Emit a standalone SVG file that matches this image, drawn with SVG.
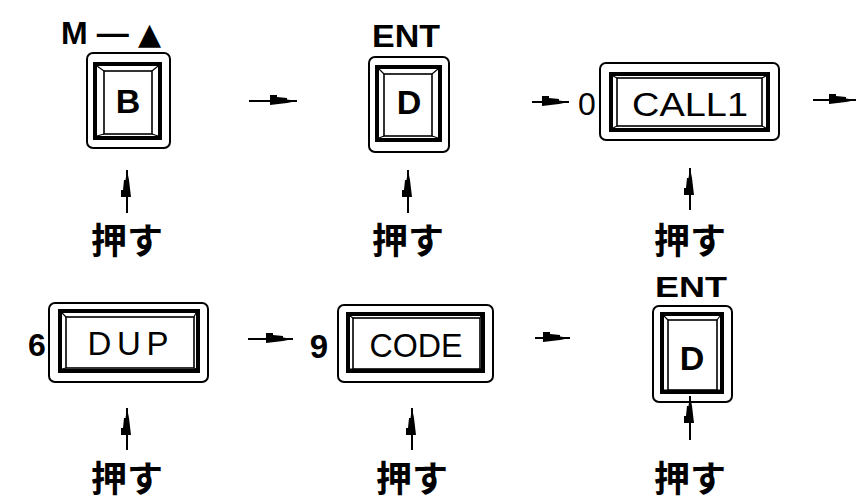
<svg xmlns="http://www.w3.org/2000/svg" width="856" height="502" viewBox="0 0 856 502">
<style>
.o{fill:none;stroke:#000;stroke-width:2}
.m{fill:none;stroke:#000;stroke-width:4}
.i{fill:none;stroke:#000;stroke-width:1.6}
.b{fill:none;stroke:#000;stroke-width:1.2}
.t{font-family:"Liberation Sans",Arial,sans-serif;font-weight:bold;fill:#000;text-anchor:middle}
.n{font-family:"Liberation Sans",Arial,sans-serif;fill:#000;text-anchor:middle}
.j{font-family:"Liberation Sans","Noto Sans CJK JP",sans-serif;font-weight:bold;font-size:36px;fill:#000;text-anchor:middle}
.c{stroke:#000;stroke-width:2;fill:none;marker-end:url(#ah)}
</style>
<defs>
<marker id="ah" markerUnits="userSpaceOnUse" viewBox="-30 -8 32 16" refX="0" refY="0" markerWidth="32" markerHeight="16" orient="auto" overflow="visible">
<path d="M0,0 L-10,-1.5 L-10,-3 L-20,-4 L-20,-6 L-27,-6 L-27,4 L-10,2 Z" fill="#000"/>
</marker>
</defs>

<g id="label-m">
<text class="t" x="111" y="44" font-size="32" textLength="100" lengthAdjust="spacing">M—<tspan font-family="DejaVu Sans,sans-serif" font-size="30">▲</tspan></text>
</g>
<g id="key-b">
<rect class="o" x="87" y="53" width="83" height="95" rx="6"/>
<rect class="m" x="95" y="64" width="65" height="74"/>
<rect class="i" x="104" y="71" width="48" height="63"/>
<path class="b" d="M97,66 L104,71 M158,66 L152,71 M97,136 L104,134 M158,136 L152,134"/>
<text class="t" x="128" y="113" font-size="34">B</text>
</g>

<g id="label-ent1">
<text class="t" x="406" y="47" font-size="32" textLength="68" lengthAdjust="spacingAndGlyphs">ENT</text>
</g>
<g id="key-d1">
<rect class="o" x="369" y="57" width="80" height="95" rx="6"/>
<rect class="m" x="377" y="67" width="63" height="73"/>
<rect class="i" x="384" y="74" width="48" height="62"/>
<path class="b" d="M379,69 L384,74 M438,69 L432,74 M379,138 L384,136 M438,138 L432,136"/>
<text class="t" x="409" y="114" font-size="34">D</text>
</g>

<g id="label-0">
<text class="n" x="587" y="115" font-size="32">0</text>
</g>
<g id="key-call1">
<rect class="o" x="600" y="63" width="179" height="77" rx="6"/>
<rect class="m" x="611" y="74" width="157" height="56"/>
<rect class="i" x="617" y="78" width="145" height="48"/>
<path class="b" d="M613,76 L617,78 M766,76 L762,78 M613,128 L617,126 M766,128 L762,126"/>
<text class="n" x="690" y="116" font-size="33" textLength="116" lengthAdjust="spacingAndGlyphs">CALL1</text>
</g>

<g id="label-6">
<text class="t" x="37" y="356" font-size="32">6</text>
</g>
<g id="key-dup">
<rect class="o" x="49" y="303" width="159" height="79" rx="6"/>
<rect class="m" x="60" y="311" width="138" height="60"/>
<rect class="i" x="66" y="317" width="128" height="51"/>
<path class="b" d="M62,313 L66,317 M196,313 L194,317 M62,369 L66,368 M196,369 L194,368"/>
<text class="n" x="128" y="355" font-size="33" textLength="81" lengthAdjust="spacing">DUP</text>
</g>

<g id="label-9">
<text class="t" x="319" y="358" font-size="33">9</text>
</g>
<g id="key-code">
<rect class="o" x="338" y="305" width="155" height="77" rx="6"/>
<rect class="m" x="348" y="314" width="135" height="57"/>
<rect class="i" x="353" y="318" width="127" height="51"/>
<path class="b" d="M350,316 L353,318 M481,316 L480,318 M350,369 L353,369 M481,369 L480,369"/>
<text class="n" x="416" y="357" font-size="33" textLength="93" lengthAdjust="spacingAndGlyphs">CODE</text>
</g>

<g id="label-ent2">
<text class="t" x="691" y="297" font-size="30" textLength="72" lengthAdjust="spacingAndGlyphs">ENT</text>
</g>
<g id="key-d2">
<rect class="o" x="653" y="306" width="79" height="96" rx="6"/>
<rect class="m" x="662" y="314" width="60" height="78"/>
<rect class="i" x="668" y="320" width="49" height="70"/>
<path class="b" d="M664,316 L668,320 M720,316 L717,320 M664,390 L668,390 M720,390 L717,390"/>
<text class="t" x="692" y="370" font-size="34">D</text>
</g>

<g id="push-labels">
<text class="j" x="127" y="254">押す</text>
<text class="j" x="408" y="254">押す</text>
<text class="j" x="690" y="254">押す</text>
<text class="j" x="127" y="492">押す</text>
<text class="j" x="412" y="492">押す</text>
<text class="j" x="690" y="492">押す</text>
</g>

<g id="connectors">
<line class="c" x1="249" y1="101" x2="297" y2="101"/>
<line class="c" x1="532" y1="102" x2="569" y2="102"/>
<line class="c" x1="813" y1="100" x2="856" y2="100"/>
<line class="c" x1="248" y1="339" x2="293" y2="339"/>
<line class="c" x1="535" y1="338" x2="570" y2="338"/>
<line class="c" x1="127" y1="213" x2="127" y2="170"/>
<line class="c" x1="408" y1="213" x2="408" y2="170"/>
<line class="c" x1="690" y1="210" x2="690" y2="168"/>
<line class="c" x1="127" y1="450" x2="127" y2="408"/>
<line class="c" x1="412" y1="450" x2="412" y2="408"/>
<line class="c" x1="690" y1="440" x2="690" y2="396"/>
</g>
</svg>
